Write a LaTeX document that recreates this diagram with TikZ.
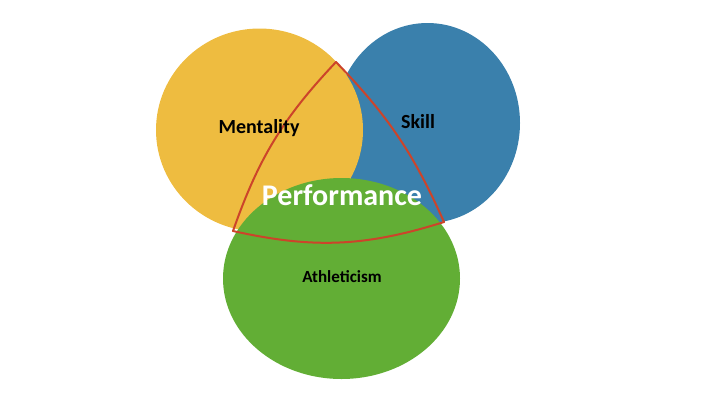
\documentclass[tikz,border=0pt]{standalone}
\usepackage{fontspec}
\setmainfont{Carlito}
\usetikzlibrary{shapes.geometric}
\usetikzlibrary{positioning}
\definecolor{mentyellow}{RGB}{238,188,64}
\definecolor{skillblue}{RGB}{58,128,172}
\definecolor{athgreen}{RGB}{98,174,53}
\definecolor{perfred}{RGB}{204,68,42}
\tikzstyle{area} = [
    ellipse, 
    draw=none, 
    inner sep=0pt, 
    outer sep=0pt
]
\tikzstyle{area_label} = [
    black, 
    font=\bfseries\fontsize{20}{24}\selectfont, 
    inner sep=0pt
]
\tikzstyle{perf_line} = [
    perfred, 
    line width=2pt, 
    line join=round
]

\begin{document}
\begin{tikzpicture}[
    x=1pt, 
    y=-1pt
] 
\useasboundingbox (0,0) rectangle (720,405);

\node [area, fill=skillblue, minimum width=185, minimum height=200] (skill) at (427.5,123) {};
\node [area, fill=mentyellow, minimum width=207, minimum height=203] (mentality) at (259.5,130) {};
\node [area, fill=athgreen, minimum width=237, minimum height=201] (athleticism) at (341.5,278.5) {};

\coordinate (top) at (336,62);
\coordinate (low_left) at (233,231);
\coordinate (low_right) at (444,222);
\draw [perf_line] (top) to[bend right=12] (low_left) 
    to[bend right=15] (low_right) 
    to[bend right=10] cycle;

\node [area_label] (mentality_text) at (259,128) {Mentality};
\node [area_label] (skill_text) at (418,122) {Skill};
\node [area_label, font=\bfseries\fontsize{17}{20}\selectfont] (athleticism_text) at (342,277) {Athleticism};
\node [area_label, white, font=\bfseries\fontsize{30}{36}\selectfont] (performance_text) at (342,195) {Performance};

%\draw [<-, thick] (performance_text) -- (top);
\end{tikzpicture}
\end{document}
